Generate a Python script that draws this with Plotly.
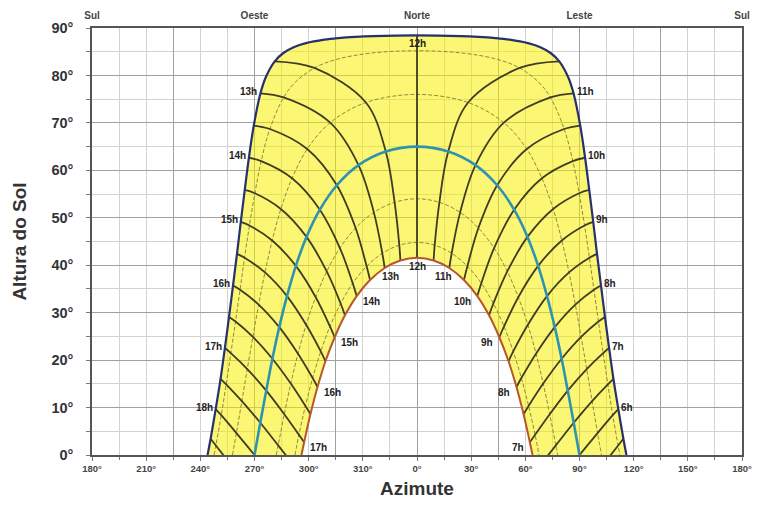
import plotly.graph_objects as go

# ---------------- data ----------------
# Sun positions at half-hour steps in the morning (12h, 11h30, 11h, ... 5h);
# azimuth measured from North toward East, altitude in degrees.
HOURS_AM = ["12h", "11h30", "11h", "10h30", "10h", "9h30", "9h", "8h30",
            "8h", "7h30", "7h", "6h30", "6h", "5h30", "5h"]
HOURS_PM = ["12h", "12h30", "13h", "13h30", "14h", "14h30", "15h", "15h30",
            "16h", "16h30", "17h", "17h30", "18h", "18h30", "19h"]

AZ_DEZ = [0, 78.8, 86.7, 90.4, 93.1, 95.4, 97.6, 99.7, 101.9, 104.1, 106.4, 108.8, 111.5, 114.3, 117.5]
ALT_DEZ = [88.45, 82.97, 76.23, 69.44, 62.65, 55.87, 49.12, 42.40, 35.72, 29.10, 22.54, 16.06, 9.68, 3.42, -2.70]

AZ_JAN = [0, 56.8, 73.9, 81.5, 86.3, 89.8, 92.8, 95.5, 98.0, 100.5, 103.1, 105.7, 108.4, 111.4, 114.6]
ALT_JAN = [85.2, 81.58, 75.36, 68.71, 61.95, 55.16, 48.37, 41.58, 34.83, 28.13, 21.47, 14.89, 8.39, 2.00, -4.26]

AZ_FEV = [0, 28.3, 48.1, 60.8, 69.2, 75.4, 80.2, 84.2, 87.7, 90.9, 94.0, 97.0, 100.0, 103.1]
ALT_FEV = [76.0, 74.29, 70.04, 64.49, 58.33, 51.85, 45.21, 38.48, 31.70, 24.90, 18.11, 11.35, 4.62, -2.03]

AZ_MAR = [0, 17.3, 32.4, 44.4, 53.8, 61.2, 67.1, 72.0, 76.3, 80.1, 83.5, 86.8, 90.0, 93.2]
ALT_MAR = [65.0, 63.97, 61.1, 56.86, 51.71, 45.97, 39.86, 33.49, 26.95, 20.29, 13.57, 6.79, 0.0, -6.79]

AZ_ABR = [0, 12.4, 23.9, 34.0, 42.7, 50.0, 56.1, 61.4, 65.9, 69.9, 73.5, 76.9, 80.0]
ALT_ABR = [54.0, 53.26, 51.14, 47.84, 43.62, 38.69, 33.26, 27.45, 21.36, 15.06, 8.60, 2.03, -4.62]

AZ_MAI = [0, 9.8, 19.2, 27.9, 35.6, 42.3, 48.2, 53.3, 57.8, 61.8, 65.4, 68.6]
ALT_MAI = [44.8, 44.22, 42.51, 39.78, 36.21, 31.93, 27.10, 21.83, 16.22, 10.35, 4.26, -2.0]

AZ_JUN = [0, 9.2, 17.9, 26.0, 33.4, 39.9, 45.6, 50.7, 55.1, 59.0, 62.5, 65.7]
ALT_JUN = [41.55, 41.01, 39.42, 36.87, 33.50, 29.44, 24.82, 19.76, 14.33, 8.63, 2.70, -3.42]

# extra points on the paths close to noon (flat top of the summer paths)
EXTRA_AZ_DEZ = [24.2, 34.0, 43.5, 51.3, 61.5, 68.0, 74.0, 83.75]
EXTRA_ALT_DEZ = [88.30, 88.13, 87.87, 87.54, 86.81, 86.0, 84.73, 79.62]
EXTRA_AZ_JAN = [26.1, 44.9, 67.4]
EXTRA_ALT_JAN = [84.68, 83.35, 78.57]

# azimuth where each path meets the horizon
SUNRISE_AZ = [116.0, 112.4, 102.2, 90.0, 77.9, 67.6, 64.0]

X_TICKVALS = [-180, -150, -120, -90, -60, -30, 0, 30, 60, 90, 120, 150, 180]
X_TICKTEXT = ["180°", "210°", "240°", "270°", "300°", "310°", "0°", "30°", "60°",
              "90°", "120°", "150°", "180°"]
X_MINOR = [-165, -135, -105, -75, -45, -15, 15, 45, 75, 105, 135, 165]
X_TOP_VALS = [-180, -135, -90, -45, 0, 45, 90, 135, 180]
X_TOP_TEXT = ["Sul", "", "Oeste", "", "Norte", "", "Leste", "", "Sul"]
Y_TICKVALS = [0, 10, 20, 30, 40, 50, 60, 70, 80, 90]
Y_TICKTEXT = ["0°", "10°", "20°", "30°", "40°", "50°", "60°", "70°", "80°", "90°"]

DATE_AZ = [AZ_DEZ, AZ_JAN, AZ_FEV, AZ_MAR, AZ_ABR, AZ_MAI, AZ_JUN]
DATE_ALT = [ALT_DEZ, ALT_JAN, ALT_FEV, ALT_MAR, ALT_ABR, ALT_MAI, ALT_JUN]
EXTRA_AZ = [EXTRA_AZ_DEZ, EXTRA_AZ_JAN, [], [], [], [], []]
EXTRA_ALT = [EXTRA_ALT_DEZ, EXTRA_ALT_JAN, [], [], [], [], []]

# ---------------- styles ----------------
YELLOW = "rgba(249,238,0,0.54)"
C_DEZ = "#27316b"
C_MAR = "#2f93b0"
C_JUN = "#b5562b"
C_HOUR = "#3f3d1f"
C_THIN = "#8d8a3a"
LABEL_FONT = dict(family="Liberation Sans, Arial, sans-serif", size=10, color="#222", weight="bold")


def date_curve(i):
    pts = [(a, h) for a, h in zip(DATE_AZ[i], DATE_ALT[i]) if h > 0]
    pts += list(zip(EXTRA_AZ[i], EXTRA_ALT[i]))
    pts.append((SUNRISE_AZ[i], 0.0))
    pts.sort()
    left = [(-a, h) for a, h in reversed(pts) if a > 0]
    allp = left + pts
    return [p[0] for p in allp], [p[1] for p in allp]


def hour_line(k, sign):
    xs, ys = [], []
    for i in range(7):
        if k >= len(DATE_ALT[i]):
            break
        xs.append(sign * DATE_AZ[i][k])
        ys.append(DATE_ALT[i][k])
        if DATE_ALT[i][k] < 0:
            break
    return xs, ys


fig = go.Figure()

# yellow area between December and June paths
jx, jy = date_curve(6)
dx, dy = date_curve(0)
fig.add_trace(go.Scatter(x=jx, y=jy, mode="lines", line=dict(width=0, shape="spline", smoothing=1),
                         hoverinfo="skip"))
fig.add_trace(go.Scatter(x=dx, y=dy, mode="lines", line=dict(width=0, shape="spline", smoothing=1),
                         fill="tonexty", fillcolor=YELLOW, hoverinfo="skip"))

# thin intermediate date paths
for i in (1, 2, 4, 5):
    x, y = date_curve(i)
    fig.add_trace(go.Scatter(x=x, y=y, mode="lines",
                             line=dict(color=C_THIN, width=1, dash="4px,2px", shape="spline", smoothing=1),
                             hoverinfo="skip"))

# hour lines (every half hour)
x0, y0 = hour_line(0, 1)
fig.add_trace(go.Scatter(x=x0, y=y0, mode="lines", line=dict(color=C_HOUR, width=1.8), hoverinfo="skip"))
for k in range(1, 14):
    for sign in (1, -1):
        x, y = hour_line(k, sign)
        if len(x) < 2:
            continue
        fig.add_trace(go.Scatter(x=x, y=y, mode="lines",
                                 line=dict(color=C_HOUR, width=1.8, shape="spline", smoothing=1),
                                 hoverinfo="skip"))

# main paths
for i, col, w in ((3, C_MAR, 2.6), (6, C_JUN, 2.0), (0, C_DEZ, 2.2)):
    x, y = date_curve(i)
    fig.add_trace(go.Scatter(x=x, y=y, mode="lines",
                             line=dict(color=col, width=w, shape="spline", smoothing=1),
                             hoverinfo="skip"))

# invisible trace to activate the top axis
fig.add_trace(go.Scatter(x=X_TOP_VALS, y=[0] * len(X_TOP_VALS), xaxis="x2", mode="lines",
                         line=dict(width=0), opacity=0, hoverinfo="skip"))

# hour labels on the December path
ann = []
ann.append(dict(x=0, y=ALT_DEZ[0], text="12h", showarrow=False, yanchor="top", yshift=-1,
                font=LABEL_FONT))
for k in range(2, 13, 2):
    ann.append(dict(x=AZ_DEZ[k], y=ALT_DEZ[k], text=HOURS_AM[k], showarrow=False,
                    xanchor="left", xshift=1, yshift=2, font=LABEL_FONT))
    ann.append(dict(x=-AZ_DEZ[k], y=ALT_DEZ[k], text=HOURS_PM[k], showarrow=False,
                    xanchor="right", xshift=-1, yshift=2, font=LABEL_FONT))
# hour labels on the June path
ann.append(dict(x=0, y=ALT_JUN[0], text="12h", showarrow=False, yanchor="top", yshift=-1,
                font=LABEL_FONT))
ann.append(dict(x=AZ_JUN[2], y=ALT_JUN[2], text=HOURS_AM[2], showarrow=False,
                yanchor="top", xshift=-6, yshift=-1, font=LABEL_FONT))
ann.append(dict(x=-AZ_JUN[2], y=ALT_JUN[2], text=HOURS_PM[2], showarrow=False,
                yanchor="top", xshift=6, yshift=-1, font=LABEL_FONT))
for k in range(4, 11, 2):
    ann.append(dict(x=AZ_JUN[k], y=ALT_JUN[k], text=HOURS_AM[k], showarrow=False,
                    xanchor="right", xshift=-4, yshift=-5, font=LABEL_FONT))
    ann.append(dict(x=-AZ_JUN[k], y=ALT_JUN[k], text=HOURS_PM[k], showarrow=False,
                    xanchor="left", xshift=4, yshift=-5, font=LABEL_FONT))

fig.update_layout(
    width=761, height=517,
    margin=dict(l=84, r=27, t=20, b=70),
    paper_bgcolor="white", plot_bgcolor="white",
    showlegend=False,
    font=dict(family="Liberation Sans, Arial, sans-serif", color="#333"),
    annotations=ann,
    xaxis=dict(range=[-180, 180], tickmode="array", tickvals=X_TICKVALS, ticktext=X_TICKTEXT,
               tickfont=dict(size=9.5, weight="bold", color="#444"),
               showgrid=True, gridcolor="#d2d2d2", gridwidth=1,
               minor=dict(tickmode="array", tickvals=X_MINOR, showgrid=True, gridcolor="#d2d2d2",
                          ticks="outside", ticklen=3, tickcolor="#777"),
               ticks="outside", ticklen=4, tickcolor="#777", automargin=False,
               showline=True, linecolor="#555", linewidth=1.5, mirror=True, zeroline=False,
               title=dict(text="Azimute", font=dict(size=19, weight="bold", color="#333"), standoff=9)),
    xaxis2=dict(overlaying="x", side="top", range=[-180, 180], tickmode="array",
                tickvals=X_TOP_VALS, ticktext=X_TOP_TEXT, automargin=False,
                tickfont=dict(size=10, weight="bold", color="#444"), ticklabelstandoff=6,
                showgrid=True, gridcolor="#a0a0a0", gridwidth=1.2, ticks="", zeroline=False,
                showline=False),
    yaxis=dict(range=[0, 90], tickmode="array", tickvals=Y_TICKVALS, ticktext=Y_TICKTEXT,
               tickfont=dict(size=14.5, weight="bold", color="#333"), ticklabelstandoff=10,
               showgrid=True, gridcolor="#a0a0a0", gridwidth=1.2, automargin=False,
               minor=dict(dtick=5, showgrid=True, gridcolor="#d2d2d2", ticks="outside", ticklen=4,
                          tickcolor="#777"),
               ticks="outside", ticklen=4, tickcolor="#777",
               showline=True, linecolor="#555", linewidth=1.5, mirror=True, zeroline=False,
               title=dict(text="Altura do Sol", font=dict(size=19, weight="bold", color="#333"), standoff=20)),
)

fig.write_html("out.html")
